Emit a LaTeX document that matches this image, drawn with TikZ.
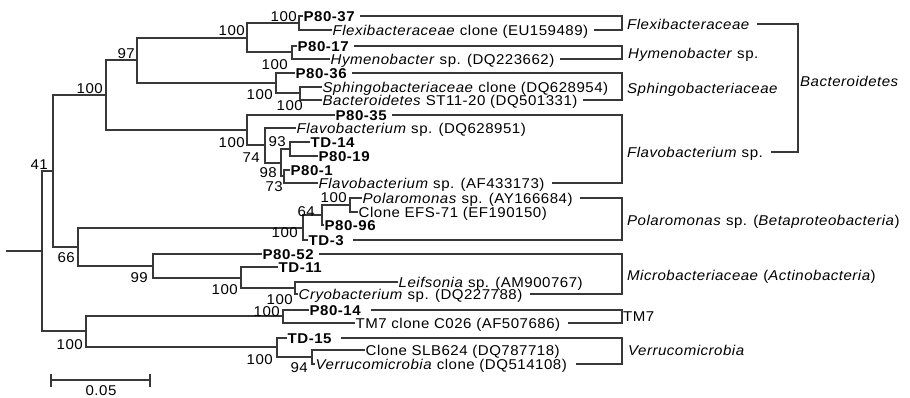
\documentclass[tikz,border=0pt]{standalone}
\usepackage{fontspec}
\setmainfont{Liberation Sans}[FakeStretch=1.06,LetterSpace=3.5]
\begin{document}
\begin{tikzpicture}[x=1pt,y=-1pt,
  every node/.style={inner sep=0pt, text height=10.2pt, text depth=0pt,
    font=\fontsize{14.2}{16}\selectfont, text=black},
  leaf/.style={anchor=west, inner xsep=1.5pt},
  bs/.style={anchor=south east},
  grp/.style={anchor=west},
  tree/.style={line width=1.8pt, draw=black!78, line cap=rect}
]
\useasboundingbox (0,0) rectangle (910,397);

% ---- internal nodes ----
\coordinate (stub) at (7,251);
\coordinate (root) at (42,251);
\coordinate (nA) at (53,171);
\coordinate (nB) at (106,95);
\coordinate (nC) at (137,60);
\coordinate (nD) at (247,38);
\coordinate (nE) at (299,23);
\coordinate (nF) at (292,52);
\coordinate (nG) at (276,83);
\coordinate (nH) at (300,93);
\coordinate (nI) at (247,130);
\coordinate (nJ) at (265,145);
\coordinate (nK) at (281,163);
\coordinate (nL) at (290,149);
\coordinate (nM) at (284,176);
\coordinate (nN) at (78,247);
\coordinate (nO) at (303,228);
\coordinate (nP) at (322,215);
\coordinate (nQ) at (350,205);
\coordinate (nR) at (153,266);
\coordinate (nS) at (241,278);
\coordinate (nT) at (295,288);
\coordinate (nU) at (86,331);
\coordinate (nV) at (283,316);
\coordinate (nW) at (277,347);
\coordinate (nX) at (312,357);
\coordinate (bx) at (622,0);
\coordinate (bb) at (798,88);

% ---- leaves ----
\node[leaf] (l1) at (302,16) {\textbf{P80-37}};
\node[leaf] (l2) at (331,30) {\textit{Flexibacteraceae} clone (EU159489)};
\node[leaf] (l3) at (296,46) {\textbf{P80-17}};
\node[leaf] (l4) at (329,59) {\textit{Hymenobacter} sp. (DQ223662)};
\node[leaf] (l5) at (294,73) {\textbf{P80-36}};
\node[leaf] (l6) at (321,87) {\textit{Sphingobacteriaceae} clone (DQ628954)};
\node[leaf] (l7) at (321,100) {\textit{Bacteroidetes} ST11-20 (DQ501331)};
\node[leaf] (l8) at (334,115) {\textbf{P80-35}};
\node[leaf] (l9) at (295,128) {\textit{Flavobacterium} sp. (DQ628951)};
\node[leaf] (l10) at (309,142) {\textbf{TD-14}};
\node[leaf] (l11) at (317,156) {\textbf{P80-19}};
\node[leaf] (l12) at (289,170) {\textbf{P80-1}};
\node[leaf] (l13) at (317,183) {\textit{Flavobacterium} sp. (AF433173)};
\node[leaf] (l14) at (361,198) {\textit{Polaromonas} sp. (AY166684)};
\node[leaf] (l15) at (357,212) {Clone EFS-71 (EF190150)};
\node[leaf] (l16) at (323,225) {\textbf{P80-96}};
\node[leaf] (l17) at (307,240) {\textbf{TD-3}};
\node[leaf] (l18) at (261,254) {\textbf{P80-52}};
\node[leaf] (l19) at (277,267) {\textbf{TD-11}};
\node[leaf] (l20) at (397,282) {\textit{Leifsonia} sp. (AM900767)};
\node[leaf] (l21) at (297,294) {\textit{Cryobacterium} sp. (DQ227788)};
\node[leaf] (l22) at (308,310) {\textbf{P80-14}};
\node[leaf] (l23) at (354,323) {TM7 clone C026 (AF507686)};
\node[leaf] (l24) at (286,338) {\textbf{TD-15}};
\node[leaf] (l25) at (364,350) {Clone SLB624 (DQ787718)};
\node[leaf] (l26) at (314,364) {\textit{Verrucomicrobia} clone (DQ514108)};

% ---- tree ----
\draw[tree] (stub) -- (root);
\draw[tree] (nA) -| (root) |- (nU);
\draw[tree] (nB) -| (nA) |- (nN);
\draw[tree] (nC) -| (nB) |- (nI);
\draw[tree] (nD) -| (nC) |- (nG);
\draw[tree] (nE) -| (nD) |- (nF);
\draw[tree] (l1.west) -| (nE) |- (l2.west);
\draw[tree] (l3.west) -| (nF) |- (l4.west);
\draw[tree] (l5.west) -| (nG) |- (nH);
\draw[tree] (l6.west) -| (nH) |- (l7.west);
\draw[tree] (l8.west) -| (nI) |- (nJ);
\draw[tree] (l9.west) -| (nJ) |- (nK);
\draw[tree] (nL) -| (nK) |- (nM);
\draw[tree] (l10.west) -| (nL) |- (l11.west);
\draw[tree] (l12.west) -| (nM) |- (l13.west);
\draw[tree] (nO) -| (nN) |- (nR);
\draw[tree] (nP) -| (nO) |- (l17.west);
\draw[tree] (nQ) -| (nP) |- (l16.west);
\draw[tree] (l14.west) -| (nQ) |- (l15.west);
\draw[tree] (l18.west) -| (nR) |- (nS);
\draw[tree] (l19.west) -| (nS) |- (nT);
\draw[tree] (l20.west) -| (nT) |- (l21.west);
\draw[tree] (nV) -| (nU) |- (nW);
\draw[tree] (l22.west) -| (nV) |- (l23.west);
\draw[tree] (l24.west) -| (nW) |- (nX);
\draw[tree] (l25.west) -| (nX) |- (l26.west);

% ---- bootstrap values ----
\node[bs] (b41) at (48,170) {41};
\node[bs] (bB) at (103,94) {100};
\node[bs] (bC) at (135,59) {97};
\node[bs] (bD) at (245,36) {100};
\node[bs] (bE) at (297,22) {100};
\node[bs] (bF) at (288,70) {100};
\node[bs] (bG) at (273,100) {100};
\node[bs] (bH) at (303,111) {100};
\node[bs] (bI) at (245,148) {100};
\node[bs] (bJ) at (260,163) {74};
\node[bs] (bK) at (277,178) {98};
\node[bs] (bL) at (286,147) {93};
\node[bs] (bM) at (283,192) {73};
\node[bs] (bN) at (75,263) {66};
\node[bs] (bO) at (298,238) {100};
\node[bs] (bP) at (315,217) {64};
\node[bs] (bQ) at (347,203) {100};
\node[bs] (bR) at (148,283) {99};
\node[bs] (bS) at (238,295) {100};
\node[bs] (bT) at (293,305) {100};
\node[bs] (bU) at (83,350) {100};
\node[bs] (bV) at (280,317) {100};
\node[bs] (bW) at (273,365) {100};
\node[bs] (bX) at (308,373) {94};

% ---- group brackets ----
\draw[tree] ([xshift=4pt]l1.east) -- (bx |- l1.east) -- (bx |- l2.east) -- ([xshift=5pt]l2.east);
\draw[tree] ([xshift=4pt]l3.east) -- (bx |- l3.east) -- (bx |- l4.east) -- ([xshift=5pt]l4.east);
\draw[tree] ([xshift=4pt]l5.east) -- (bx |- l5.east) -- (bx |- l7.east) -- ([xshift=5pt]l7.east);
\draw[tree] ([xshift=4pt]l8.east) -- (bx |- l8.east) -- (bx |- l13.east) -- ([xshift=7pt]l13.east);
\draw[tree] ([xshift=7pt]l14.east) -- (bx |- l14.east) -- (bx |- l17.east) -- ([xshift=8pt]l17.east);
\draw[tree] ([xshift=4pt]l18.east) -- (bx |- l18.east) -- (bx |- l21.east) -- ([xshift=7pt]l21.east);
\draw[tree] ([xshift=9pt]l22.east) -- (bx |- l22.east) -- (bx |- l23.east) -- ([xshift=7pt]l23.east);
\draw[tree] ([xshift=8pt]l24.east) -- (bx |- l24.east) -- (bx |- l26.east) -- ([xshift=8pt]l26.east);

\node[grp] (g1) at (627,24) {\textit{Flexibacteraceae}};
\node[grp] (g2) at (628,53) {\textit{Hymenobacter} sp.};
\node[grp] (g3) at (627,88) {\textit{Sphingobacteriaceae}};
\node[grp] (g4) at (627,152) {\textit{Flavobacterium} sp.};
\node[grp] (g5) at (627,220) {\textit{Polaromonas} sp. (\textit{Betaproteobacteria})};
\node[grp] (g6) at (627,275) {\textit{Microbacteriaceae} (\textit{Actinobacteria})};
\node[grp] (g7) at (623,316) {TM7};
\node[grp] (g8) at (628,350) {\textit{Verrucomicrobia}};

\draw[tree] ([xshift=8pt]g1.east) -| (bb) |- ([xshift=9pt]g4.east);
\node[grp] (g9) at (800,81) {\textit{Bacteroidetes}};

% ---- scale bar ----
\coordinate (sb1) at (51,380);
\coordinate (sb2) at (150,380);
\draw[tree] (sb1) -- (sb2);
\draw[tree] ([yshift=5pt]sb1) -- ([yshift=-6pt]sb1);
\draw[tree] ([yshift=5pt]sb2) -- ([yshift=-6pt]sb2);
\node[anchor=south] (sbl) at (101,396) {0.05};
\end{tikzpicture}
\end{document}
